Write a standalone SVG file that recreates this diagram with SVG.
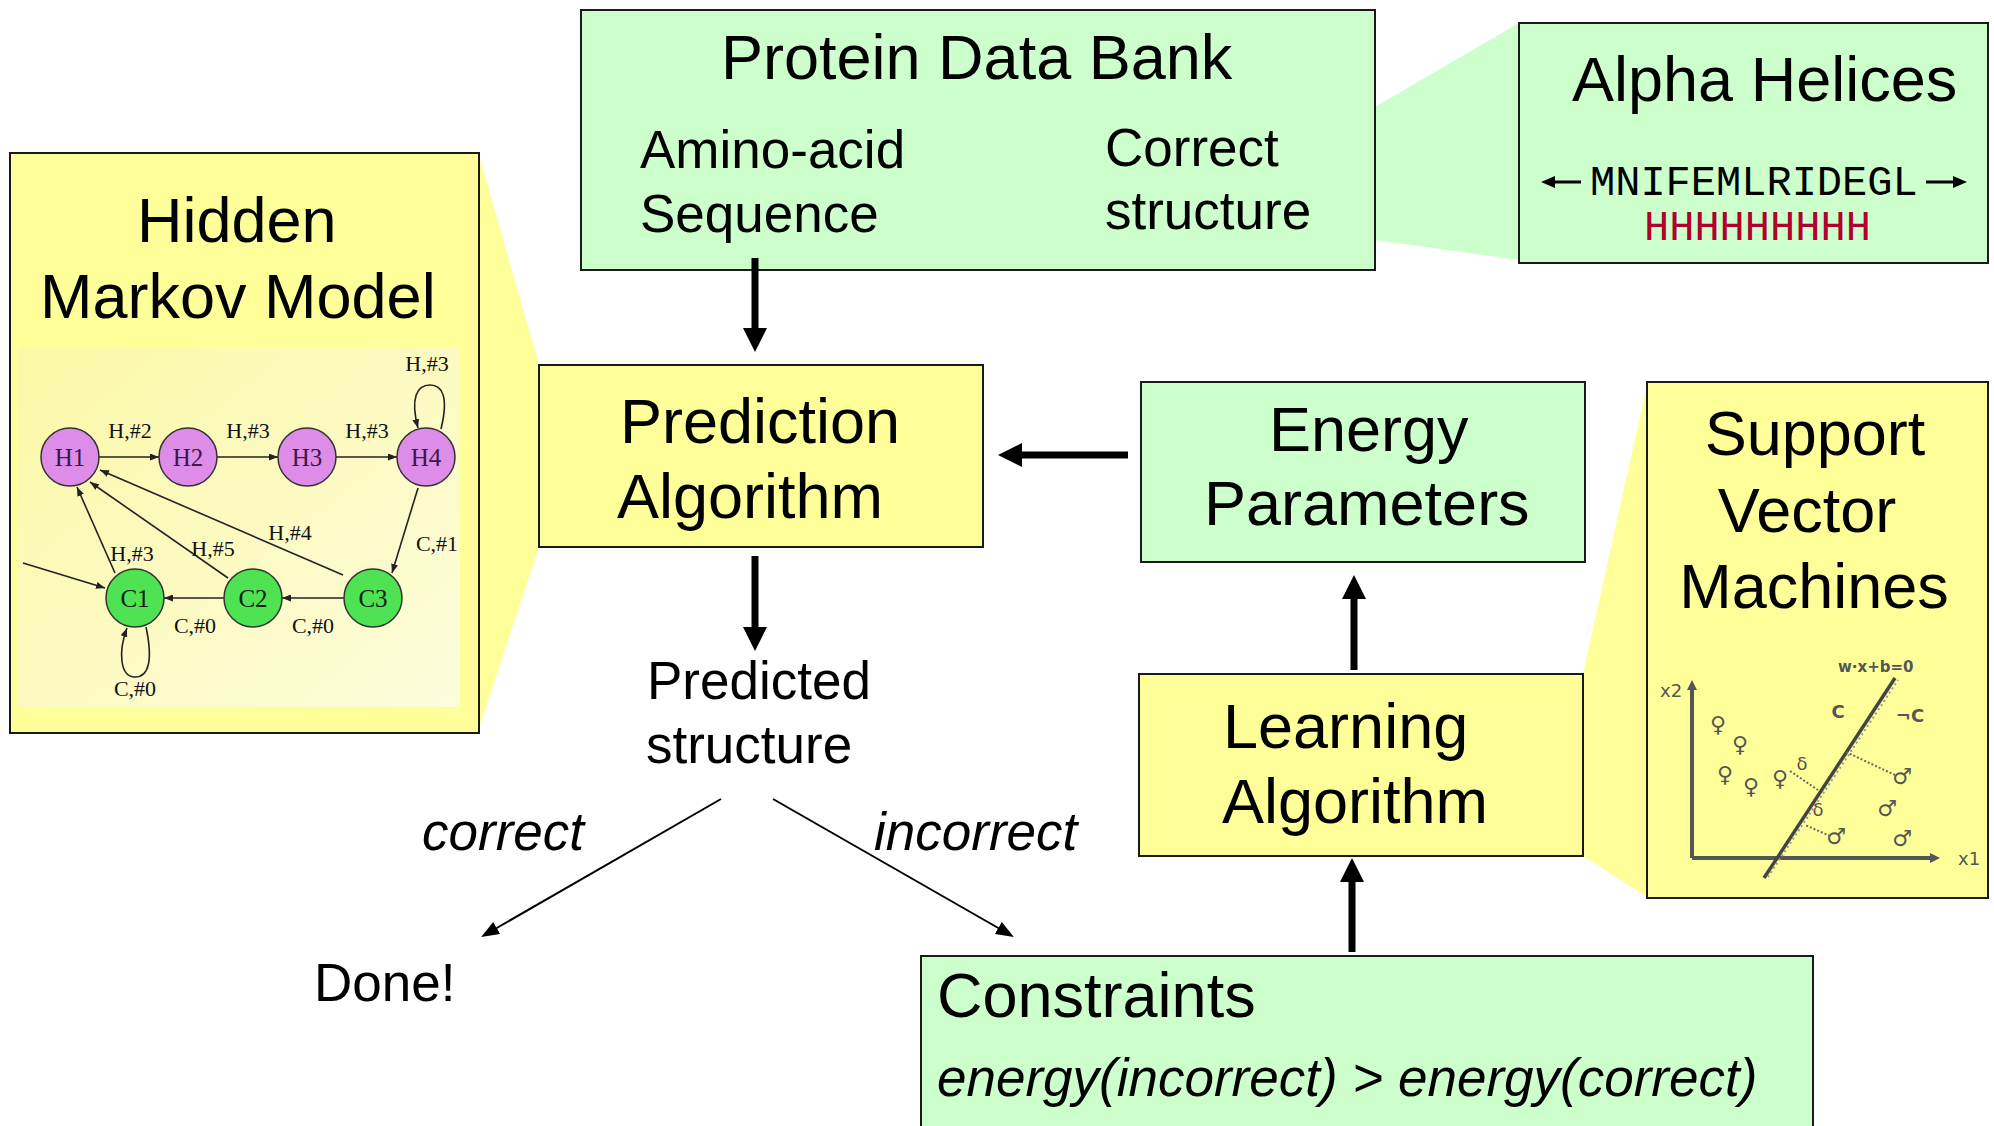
<svg xmlns="http://www.w3.org/2000/svg" width="1994" height="1126" viewBox="0 0 1994 1126">
<style>
.sans{font-family:"Liberation Sans",Arial,Helvetica,sans-serif;fill:#000}
.big{font-size:63px}
.mid{font-size:53px}
.it{font-style:italic}
.mono{font-family:"Liberation Mono","Courier New",monospace;font-size:42px}
.serif{font-family:"Liberation Serif","Times New Roman",serif;font-size:22px;fill:#111;text-anchor:middle}
.nlab{font-family:"Liberation Serif","Times New Roman",serif;font-size:25px;text-anchor:middle}
.box{stroke:#1a1a1a;stroke-width:2}
.green{fill:#ccffcc}
.yellow{fill:#ffff99}
.thick{stroke:#000;stroke-width:7;fill:none;marker-end:url(#ahThick)}
.thin{stroke:#000;stroke-width:2;fill:none;marker-end:url(#ahThin)}
.hmm{stroke:#222;stroke-width:1.6;fill:none;marker-end:url(#ahTiny)}
.hnode{fill:#dd8ce8;stroke:#333;stroke-width:1.5}
.cnode{fill:#4fe353;stroke:#333;stroke-width:1.5}
.svm{font-family:"DejaVu Sans","Liberation Sans",sans-serif;fill:#555}
</style>
<defs>
<marker id="ahThick" viewBox="0 0 24 24" refX="4" refY="12" markerWidth="24" markerHeight="24" markerUnits="userSpaceOnUse" orient="auto"><path d="M0,0 L24,12 L0,24 z" fill="#000"/></marker>
<marker id="ahThin" viewBox="0 0 18 14" refX="2" refY="7" markerWidth="18" markerHeight="14" markerUnits="userSpaceOnUse" orient="auto"><path d="M0,0 L18,7 L0,14 z" fill="#000"/></marker>
<marker id="ahTiny" viewBox="0 0 9 7" refX="9" refY="3.5" markerWidth="9" markerHeight="7" markerUnits="userSpaceOnUse" orient="auto"><path d="M0,0 L9,3.5 L0,7 z" fill="#222"/></marker>
<marker id="ahSeq" viewBox="0 0 14 12" refX="2" refY="6" markerWidth="14" markerHeight="12" markerUnits="userSpaceOnUse" orient="auto"><path d="M0,0 L14,6 L0,12 z" fill="#000"/></marker>
<marker id="ahAxis" viewBox="0 0 10 10" refX="2" refY="5" markerWidth="10" markerHeight="10" markerUnits="userSpaceOnUse" orient="auto"><path d="M0,0 L10,5 L0,10 z" fill="#555"/></marker>
<linearGradient id="hmmbg" x1="0" y1="0" x2="1" y2="1"><stop offset="0" stop-color="#fbf8a6"/><stop offset="1" stop-color="#fdfcdc"/></linearGradient>
</defs>

<!-- callout wedges -->
<polygon points="479,155 539,365 539,547 479,728" fill="#ffff99"/>
<polygon points="1375,107 1519,23 1519,260 1375,240" fill="#ccffcc"/>
<polygon points="1583,674 1647,385 1647,897 1583,856" fill="#ffff99"/>

<g id="hmm">
<rect x="10" y="153" width="469" height="580" class="box yellow"/>
<text class="sans big" x="137" y="242">Hidden</text>
<text class="sans big" x="40" y="318">Markov Model</text>
<rect x="18" y="348" width="442" height="359" fill="url(#hmmbg)"/>
<g id="hmm-edges">
<line x1="99" y1="457" x2="159" y2="457" class="hmm"/>
<line x1="217" y1="457" x2="278" y2="457" class="hmm"/>
<line x1="336" y1="457" x2="397" y2="457" class="hmm"/>
<path d="M441,429 C449,396 442,385 430,385 C417,385 410,398 418,428" class="hmm"/>
<line x1="418" y1="488" x2="392" y2="573" class="hmm"/>
<line x1="344" y1="598" x2="282" y2="598" class="hmm"/>
<line x1="224" y1="598" x2="164" y2="598" class="hmm"/>
<path d="M146,627 C153,660 149,677 135,677 C120,677 118,652 127,628" class="hmm"/>
<line x1="115" y1="573" x2="77" y2="487" class="hmm"/>
<line x1="228" y1="578" x2="90" y2="482" class="hmm"/>
<line x1="343" y1="575" x2="100" y2="470" class="hmm"/>
<line x1="23" y1="563" x2="105" y2="588" class="hmm"/>
</g>
<circle cx="70" cy="457" r="29" class="hnode"/>
<circle cx="188" cy="457" r="29" class="hnode"/>
<circle cx="307" cy="457" r="29" class="hnode"/>
<circle cx="426" cy="457" r="29" class="hnode"/>
<circle cx="135" cy="598" r="29" class="cnode"/>
<circle cx="253" cy="598" r="29" class="cnode"/>
<circle cx="373" cy="598" r="29" class="cnode"/>
<text class="nlab" x="70" y="466" fill="#3a1848">H1</text>
<text class="nlab" x="188" y="466" fill="#3a1848">H2</text>
<text class="nlab" x="307" y="466" fill="#3a1848">H3</text>
<text class="nlab" x="426" y="466" fill="#3a1848">H4</text>
<text class="nlab" x="135" y="607" fill="#102010">C1</text>
<text class="nlab" x="253" y="607" fill="#102010">C2</text>
<text class="nlab" x="373" y="607" fill="#102010">C3</text>
<text class="serif" x="130" y="438">H,#2</text>
<text class="serif" x="248" y="438">H,#3</text>
<text class="serif" x="367" y="438">H,#3</text>
<text class="serif" x="427" y="371">H,#3</text>
<text class="serif" x="290" y="540">H,#4</text>
<text class="serif" x="213" y="556">H,#5</text>
<text class="serif" x="132" y="561">H,#3</text>
<text class="serif" x="437" y="551">C,#1</text>
<text class="serif" x="195" y="633">C,#0</text>
<text class="serif" x="313" y="633">C,#0</text>
<text class="serif" x="135" y="696">C,#0</text>
</g>

<g id="pdb">
<rect x="581" y="10" width="794" height="260" class="box green"/>
<text class="sans big" x="721" y="79">Protein Data Bank</text>
<text class="sans mid" x="640" y="168">Amino-acid</text>
<text class="sans mid" x="640" y="232">Sequence</text>
<text class="sans mid" x="1105" y="166">Correct</text>
<text class="sans mid" x="1105" y="229">structure</text>
</g>

<g id="alpha">
<rect x="1519" y="23" width="469" height="240" class="box green"/>
<text class="sans big" x="1572" y="101">Alpha Helices</text>
<line x1="1581" y1="182" x2="1553" y2="182" stroke="#000" stroke-width="3" marker-end="url(#ahSeq)"/>
<text class="mono" x="1590" y="195">MNIFEMLRIDEGL</text>
<line x1="1926" y1="182" x2="1955" y2="182" stroke="#000" stroke-width="3" marker-end="url(#ahSeq)"/>
<text class="mono" x="1644" y="240" fill="#b0002c">HHHHHHHHH</text>
</g>

<g id="prediction">
<rect x="539" y="365" width="444" height="182" class="box yellow"/>
<text class="sans big" x="620" y="443">Prediction</text>
<text class="sans big" x="617" y="518">Algorithm</text>
</g>

<g id="energy">
<rect x="1141" y="382" width="444" height="180" class="box green"/>
<text class="sans big" x="1269" y="451">Energy</text>
<text class="sans big" x="1204" y="525">Parameters</text>
</g>

<g id="learning">
<rect x="1139" y="674" width="444" height="182" class="box yellow"/>
<text class="sans big" x="1223" y="748">Learning</text>
<text class="sans big" x="1222" y="823">Algorithm</text>
</g>

<g id="svm">
<rect x="1647" y="382" width="341" height="516" class="box yellow"/>
<text class="sans big" x="1815" y="455" text-anchor="middle">Support</text>
<text class="sans big" x="1807" y="532" text-anchor="middle">Vector</text>
<text class="sans big" x="1814" y="608" text-anchor="middle">Machines</text>
<line x1="1692" y1="858" x2="1692" y2="688" stroke="#555" stroke-width="4" marker-end="url(#ahAxis)"/>
<line x1="1692" y1="858" x2="1932" y2="858" stroke="#555" stroke-width="4" marker-end="url(#ahAxis)"/>
<line x1="1764" y1="878" x2="1895" y2="678" stroke="#444" stroke-width="3.5"/>
<line x1="1768" y1="877" x2="1898" y2="680" stroke="#999" stroke-width="2" stroke-dasharray="2,3"/>
<text class="svm" x="1660" y="697" font-size="18">x2</text>
<text class="svm" x="1958" y="865" font-size="18">x1</text>
<text class="svm" x="1838" y="672" font-size="15" font-weight="bold">w·x+b=0</text>
<text class="svm" x="1838" y="718" font-size="18" font-weight="bold" text-anchor="middle">C</text>
<text class="svm" x="1910" y="722" font-size="18" font-weight="bold" text-anchor="middle">¬C</text>
<g font-size="22" text-anchor="middle">
<text class="svm" x="1718" y="732">♀</text>
<text class="svm" x="1740" y="752">♀</text>
<text class="svm" x="1725" y="782">♀</text>
<text class="svm" x="1751" y="794">♀</text>
<text class="svm" x="1780" y="786">♀</text>
<text class="svm" x="1902" y="784">♂</text>
<text class="svm" x="1887" y="816">♂</text>
<text class="svm" x="1902" y="846">♂</text>
<text class="svm" x="1836" y="844">♂</text>
</g>
<text class="svm" x="1802" y="770" font-size="18" text-anchor="middle">δ</text>
<text class="svm" x="1818" y="816" font-size="18" text-anchor="middle">δ</text>
<line x1="1790" y1="771" x2="1818" y2="790" stroke="#666" stroke-width="2" stroke-dasharray="2,2"/>
<line x1="1895" y1="775" x2="1846" y2="752" stroke="#666" stroke-width="2" stroke-dasharray="2,2"/>
<line x1="1830" y1="836" x2="1805" y2="825" stroke="#666" stroke-width="2" stroke-dasharray="2,2"/>
</g>

<g id="predicted">
<text class="sans mid" x="647" y="699">Predicted</text>
<text class="sans mid" x="646" y="763">structure</text>
</g>

<g id="done">
<text class="sans mid" x="314" y="1001">Done!</text>
</g>

<g id="constraints">
<rect x="921" y="956" width="892" height="200" class="box green"/>
<text class="sans big" x="937" y="1017">Constraints</text>
<text class="sans mid it" x="937" y="1096">energy(incorrect) &gt; energy(correct)</text>
</g>

<g id="connectors">
<line x1="755" y1="258" x2="755" y2="332" class="thick"/>
<line x1="755" y1="556" x2="755" y2="631" class="thick"/>
<line x1="1128" y1="455" x2="1018" y2="455" class="thick"/>
<line x1="1354" y1="670" x2="1354" y2="595" class="thick"/>
<line x1="1352" y1="952" x2="1352" y2="878" class="thick"/>
<line x1="721" y1="799" x2="495" y2="929" class="thin"/>
<line x1="773" y1="799" x2="1000" y2="929" class="thin"/>
<text class="sans mid it" x="422" y="850">correct</text>
<text class="sans mid it" x="874" y="850">incorrect</text>
</g>
</svg>
